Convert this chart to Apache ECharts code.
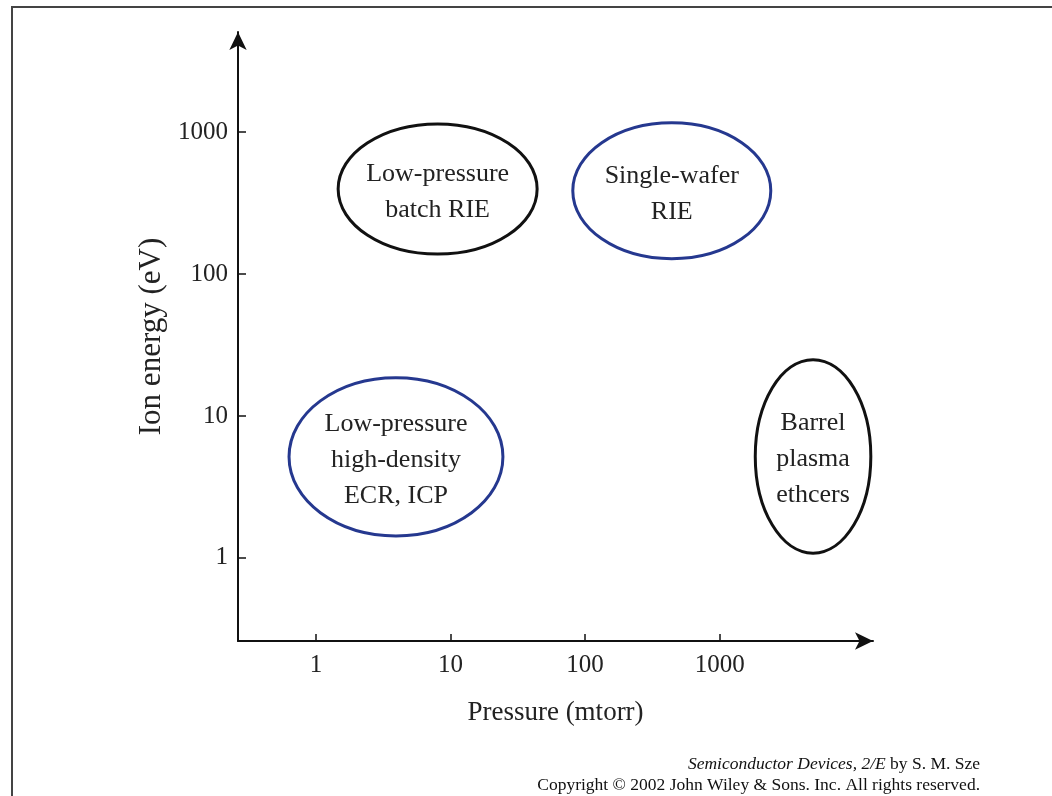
<!DOCTYPE html>
<html>
<head>
<meta charset="utf-8">
<script src="https://cdn.jsdelivr.net/npm/echarts@6/dist/echarts.min.js"></script>
<style>html,body{margin:0;padding:0;background:#fff}#c{width:1052px;height:796px}</style>
</head>
<body>
<div id="c"></div>
<script>
// Tick values (decades) on both axes
const xTicks = [1, 10, 100, 1000];          // Pressure (mtorr)
const yTicks = [1, 10, 100, 1000];          // Ion energy (eV)
// Regions: pressure range (mtorr) and ion energy range (eV)
const regionNames = ['Low-pressure\nbatch RIE', 'Single-wafer\nRIE', 'Low-pressure\nhigh-density\nECR, ICP', 'Barrel\nplasma\nethcers'];
const pressureMin = [1.46, 81, 0.63, 1840];
const pressureMax = [44, 2400, 24.5, 13300];
const energyMin = [138, 128, 1.43, 1.08];
const energyMax = [1140, 1160, 18.6, 24.9];
const regionColors = ['#111111', '#25388f', '#25388f', '#111111'];

const L = Math.log10;
const data = regionNames.map((n, i) => [L(pressureMin[i]), L(pressureMax[i]), L(energyMin[i]), L(energyMax[i]), i]);

const font = '"Liberation Serif", "Times New Roman", serif';
const chart = echarts.init(document.getElementById('c'));
chart.setOption({
  animation: false,
  backgroundColor: '#fff',
  grid: { left: 238, right: 179, top: 32, bottom: 155 },
  xAxis: {
    type: 'value', min: -0.58, max: 4.14,
    splitLine: { show: false },
    axisLine: { onZero: false, lineStyle: { color: '#111', width: 2 }, symbol: ['none', 'arrow'], symbolSize: [13, 18] },
    axisTick: { inside: true, length: 7, lineStyle: { color: '#111', width: 1.5 }, customValues: xTicks.map(L) },
    axisLabel: { customValues: xTicks.map(L), formatter: v => String(Math.round(Math.pow(10, v))), color: '#222', fontFamily: font, fontSize: 25, margin: 12 },
    name: 'Pressure (mtorr)', nameLocation: 'middle', nameGap: 58,
    nameTextStyle: { color: '#222', fontFamily: font, fontSize: 27 }
  },
  yAxis: {
    type: 'value', min: -0.585, max: 3.704,
    splitLine: { show: false },
    axisLine: { onZero: false, lineStyle: { color: '#111', width: 2 }, symbol: ['none', 'arrow'], symbolSize: [13, 18] },
    axisTick: { inside: true, length: 8, lineStyle: { color: '#111', width: 1.5 }, customValues: yTicks.map(L) },
    axisLabel: { customValues: yTicks.map(L), formatter: v => String(Math.round(Math.pow(10, v))), color: '#222', fontFamily: font, fontSize: 25, margin: 10 },
    name: 'Ion energy (eV)', nameLocation: 'middle', nameGap: 71, nameRotate: 90,
    nameTextStyle: { color: '#222', fontFamily: font, fontSize: 31 }
  },
  series: [{
    type: 'custom',
    data: data,
    encode: { x: [0, 1], y: [2, 3] },
    renderItem: function (params, api) {
      const p1 = api.coord([api.value(0), api.value(2)]);
      const p2 = api.coord([api.value(1), api.value(3)]);
      const i = api.value(4);
      const cx = (p1[0] + p2[0]) / 2, cy = (p1[1] + p2[1]) / 2;
      const rx = Math.abs(p2[0] - p1[0]) / 2, ry = Math.abs(p2[1] - p1[1]) / 2;
      return {
        type: 'group',
        children: [
          { type: 'ellipse', shape: { cx: cx, cy: cy, rx: rx, ry: ry },
            style: { fill: 'none', stroke: regionColors[i], lineWidth: 3 } },
          { type: 'text', x: cx, y: cy + 3,
            style: { text: regionNames[i], fill: '#222', font: '26px ' + font, align: 'center', verticalAlign: 'middle', lineHeight: 36 } }
        ]
      };
    }
  }],
  graphic: [
    { type: 'polyline', shape: { points: [[12, 796], [12, 7], [1052, 7]] }, style: { stroke: '#444', lineWidth: 2, fill: 'none' } },
    { type: 'text', right: 72, top: 755,
      style: { text: '{i|Semiconductor Devices, 2/E} by S. M. Sze', fill: '#111', font: '17.5px ' + font, align: 'right',
        rich: { i: { fontStyle: 'italic', fontFamily: font, fontSize: 17.5, fill: '#111' } } } },
    { type: 'text', right: 72, top: 776,
      style: { text: 'Copyright © 2002 John Wiley & Sons. Inc. All rights reserved.', fill: '#111', font: '17.5px ' + font, align: 'right' } }
  ]
});
</script>
</body>
</html>
